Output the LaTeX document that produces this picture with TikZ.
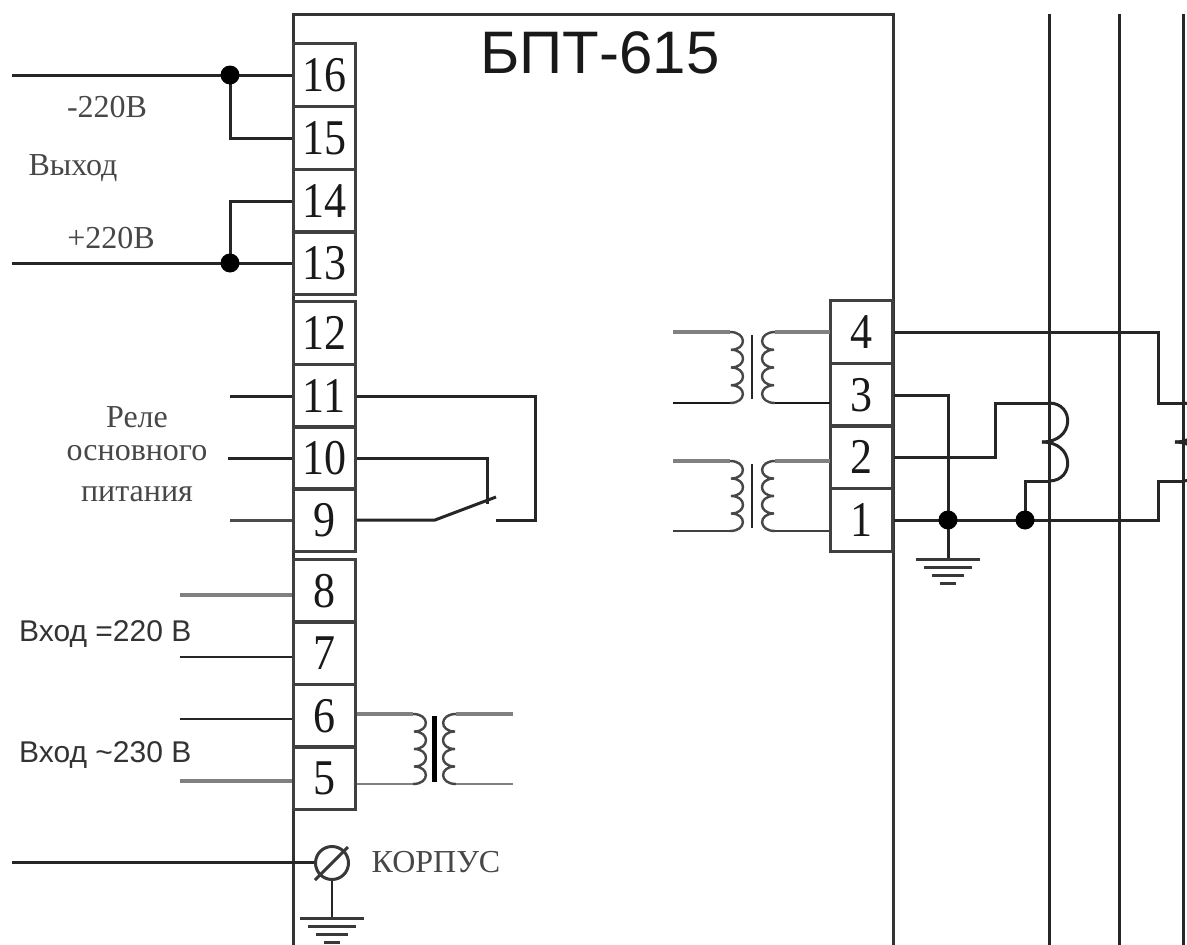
\documentclass[tikz,border=0pt]{standalone}
\usepackage{fontspec}
\setmainfont{Liberation Serif}
\newfontfamily\arialf{Liberation Sans}
\tikzset{x=1pt,y=-1pt,
 wire/.style={line width=3pt,draw=black!85,line join=miter},
 thin wire/.style={line width=2.2pt,draw=black!85},
 grey wire/.style={line width=3.2pt,draw=black!50},
 term/.style={draw=black!75,line width=3pt,minimum width=62pt,minimum height=62.5pt,inner sep=0pt,font=\fontsize{50}{50}\selectfont,text=black!90},
 dot/.style={circle,fill=black,draw=none,inner sep=0pt,minimum size=19pt},
 lab/.style={font=\fontsize{32}{32}\selectfont,text=black!72,inner sep=0pt},
 sans/.style={font=\arialf\fontsize{30}{30}\selectfont,text=black!80,inner sep=0pt,anchor=west}}
\newcommand{\gnd}[2]{%
 \draw[line width=3pt,black!78] (#1-32,#2) -- (#1+32,#2);
 \draw[line width=3pt,black!78] (#1-24,#2+8) -- (#1+24,#2+8);
 \draw[line width=3pt,black!78] (#1-16,#2+16) -- (#1+16,#2+16);
 \draw[line width=3pt,black!78] (#1-8,#2+24) -- (#1+8,#2+24);}
% coil: #1 x of wire end, #2 y top, #3 y bottom, #4 direction (+1 bulges right)
\newcommand{\coil}[4]{%
 \pgfmathsetmacro{\st}{(#3-#2)/4}
 \draw[line width=2.4pt,black!72] (#1,#2)
   .. controls (#1+#4*17,#2) and (#1+#4*17,#2+\st) .. (#1+#4*1,#2+\st)
   .. controls (#1+#4*17,#2+\st) and (#1+#4*17,#2+\st*2) .. (#1+#4*1,#2+\st*2)
   .. controls (#1+#4*17,#2+\st*2) and (#1+#4*17,#2+\st*3) .. (#1+#4*1,#2+\st*3)
   .. controls (#1+#4*17,#2+\st*3) and (#1+#4*17,#2+\st*4) .. (#1,#2+\st*4);}
\begin{document}
\begin{tikzpicture}
\useasboundingbox (0,0) rectangle (1187,945);
\fill[white] (0,0) rectangle (1187,945);
% bus bars
\coordinate (bbT1) at (1049,14); \coordinate (bbB1) at (1049,945);
\coordinate (bbT2) at (1119,14); \coordinate (bbB2) at (1119,945);
\coordinate (bbT3) at (1183,14); \coordinate (bbB3) at (1183,945);
\draw[wire] (bbT1)--(bbB1) (bbT2)--(bbB2) (bbT3)--(bbB3);
% housing
\coordinate (hTL) at (293,14); \coordinate (hTR) at (893,14);
\coordinate (hBL) at (293,945); \coordinate (hBR) at (893,945);
\draw[line width=3pt,black!80] (hBL)--(hTL)--(hTR)--(hBR);
\node[font=\arialf\fontsize{60}{60}\selectfont,text=black!90,inner sep=0pt] (title) at (600,53) {БПТ-615};
% terminals left
\foreach \n/\y in {16/75,15/138,14/201,13/263,12/333,11/396,10/458,9/520,8/591,7/653,6/716,5/778}{
 \node[term] (t\n) at (324,\y) {\scalebox{.88}[1]{\n}};}
% terminals right
\foreach \n/\y in {4/332,3/395,2/457,1/520}{
 \node[term] (t\n) at (861,\y) {\scalebox{.88}[1]{\n}};}
% 16/15
\coordinate (a16) at (12,75);
\coordinate (j16) at (230,75);
\draw[wire] (a16)--(t16.west);
\draw[wire] (j16)|-(t15.west);
\node[dot] (d16) at (j16) {};
% 14/13
\coordinate (a13) at (12,263);
\coordinate (j13) at (230,263);
\draw[wire] (a13)--(t13.west);
\draw[wire] (j13)|-(t14.west);
\node[dot] (d13) at (j13) {};
\node[lab] (l1) at (107,107) {-220В};
\node[lab] (l2) at (73,168) {Выход};
\node[lab] (l3) at (111,238) {+220В};
% relay
\coordinate (a11) at (230,396);
\coordinate (a10) at (228,458);
\coordinate (a9) at (230,520);
\draw[wire] (a11)--(t11.west);
\draw[wire] (a10)--(t10.west);
\draw[wire,draw=black!70] (a9)--(t9.west);
\node[lab] (l4) at (137,417) {Реле};
\node[lab] (l5) at (137,453) {основного};
\node[lab] (l6) at (137,494) {питания};
\coordinate (sw1) at (435,520);
\coordinate (sw2) at (496,497);
\coordinate (sw3) at (496,520);
\coordinate (c10) at (487,458);
\coordinate (c10e) at (487,504);
\coordinate (c11) at (535,396);
\draw[wire] (t11.east)--(c11)|-(sw3);
\draw[wire] (t10.east)--(c10)--(c10e);
\draw[wire] (t9.east)--(sw1)--(sw2);
% 8..5
\coordinate (a8) at (180,595);
\coordinate (a7) at (180,657);
\coordinate (a6) at (180,719);
\coordinate (a5) at (180,781);
\draw[grey wire] (a8)--(a8-|t8.west);
\draw[thin wire] (a7)--(a7-|t7.west);
\draw[thin wire] (a6)--(a6-|t6.west);
\draw[grey wire] (a5)--(a5-|t5.west);
\node[sans] (l7) at (19,634) {Вход =220 В};
\node[sans] (l8) at (19,755) {Вход {\char126\relax}230 В};
% transformer 6/5
\coordinate (c6) at (413,714);
\coordinate (c5) at (413,784);
\draw[grey wire] (c6-|t6.east)--(c6);
\draw[grey wire,line width=2.3pt] (c5-|t5.east)--(c5);
\coil{413}{714}{784}{1}
\draw[line width=5pt,black] (434,716)--(434,782);
\coil{456}{714}{784}{-1}
\coordinate (e6) at (513,714);
\coordinate (e5) at (513,784);
\draw[grey wire] (456,714)--(e6);
\draw[grey wire,line width=2.3pt] (456,784)--(e5);
% transformers right
\coil{730}{332}{403}{1}
\coil{775}{332}{403}{-1}
\draw[line width=2pt,black!85] (752,335)--(752,399);
\draw[grey wire] (673,332)--(730,332);
\draw[line width=2.2pt,black!90] (673,403)--(730,403);
\draw[grey wire] (775,332)--(830,332);
\draw[line width=2.2pt,black!90] (775,403)--(830,403);
\coil{730}{461}{531}{1}
\coil{775}{461}{531}{-1}
\draw[line width=2pt,black!85] (752,464)--(752,528);
\draw[grey wire] (673,461)--(730,461);
\draw[line width=2.2pt,black!75] (673,531)--(730,531);
\draw[grey wire] (775,461)--(830,461);
\draw[line width=2.2pt,black!75] (775,531)--(830,531);
% right wiring
\coordinate (j3) at (948,520);
\coordinate (j1) at (1025,520);
\coordinate (g3) at (948,559);
\coordinate (c2a) at (995,457);
\coordinate (c2b) at (995,403);
\coordinate (k1t) at (1049,403);
\coordinate (k1b) at (1049,481);
\coordinate (k1m) at (1042,442);
\coordinate (k2t) at (1183,403);
\coordinate (k2b) at (1183,481);
\coordinate (k2m) at (1175,442);
\draw[wire] (t3.east)-|(g3);
\draw[wire] (t2.east)-|(c2b)--(k1t);
\draw[wire] (j1)|-(k1b);
\draw[wire] (t4.east)-|(1158,403)--(k2t);
\draw[wire] (t1.east)-|(1158,481)--(k2b);
\draw[wire] (k1t) .. controls (1075,403) and (1075,442) .. (k1m);
\draw[wire] (k1m) .. controls (1075,442) and (1075,481) .. (k1b);
\draw[wire] (k2t) .. controls (1209,403) and (1209,442) .. (k2m);
\draw[wire] (k2m) .. controls (1209,442) and (1209,481) .. (k2b);
\node[dot] (d3) at (j3) {};
\node[dot] (d1) at (j1) {};
\gnd{948}{559}
% korpus
\coordinate (kl) at (12,862);
\node[circle,draw=black!78,line width=3pt,minimum size=33pt,inner sep=0pt] (k) at (332,863) {};
\draw[wire] (kl)--(kl-|k.west);
\draw[line width=3pt,black!78] (315,880)--(348,847);
\coordinate (kg) at (332,918);
\draw[thin wire] (k.south)--(kg);
\gnd{332}{918}
\node[lab] (l9) at (436,862) {КОРПУС};
\end{tikzpicture}
\end{document}
